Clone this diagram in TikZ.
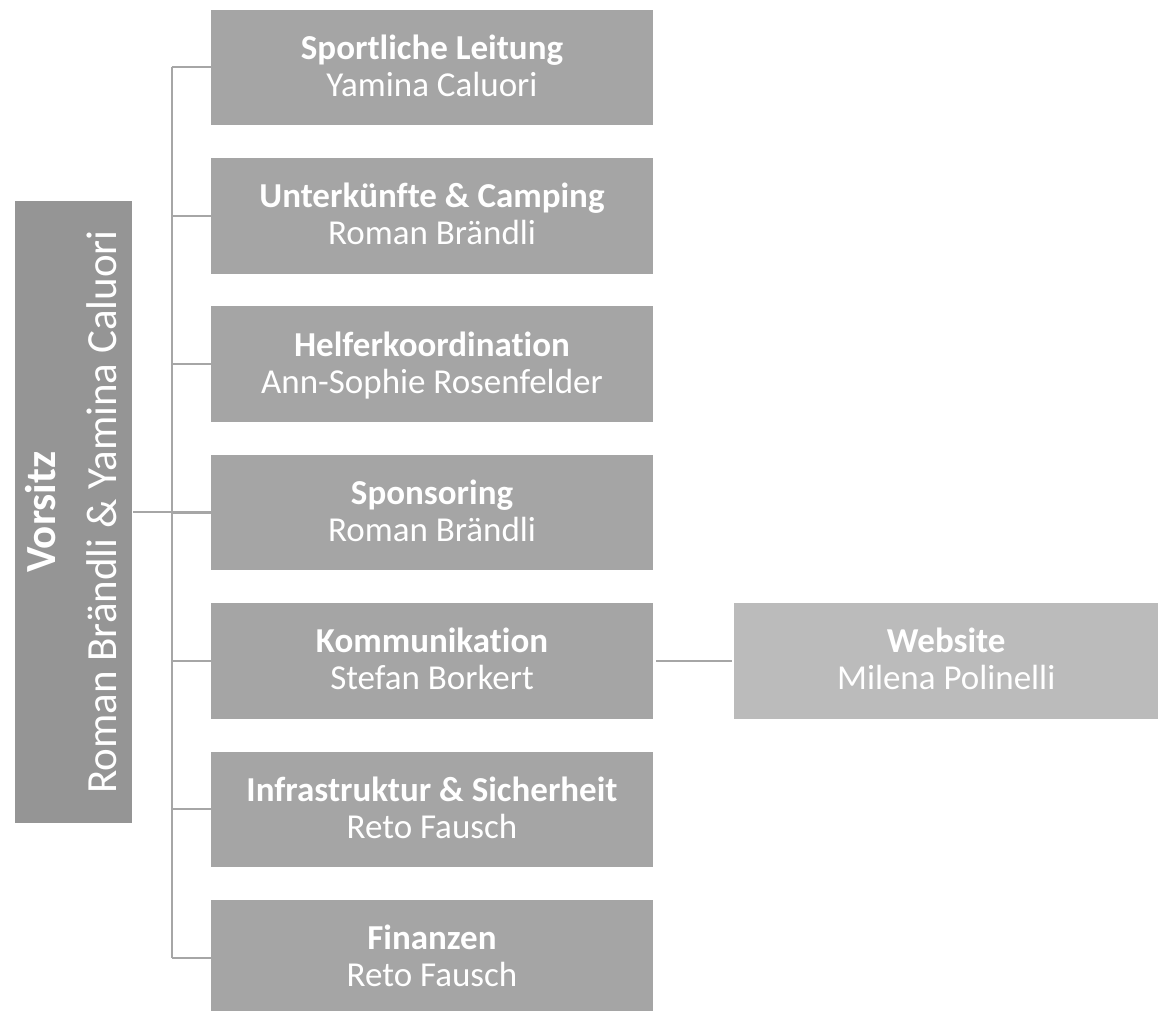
\documentclass[tikz,border=0pt]{standalone}
\usepackage{fontspec}
\setmainfont{Carlito}[RawFeature={-liga;-clig;-calt;-dlig}]
\definecolor{boxgray}{HTML}{A5A5A5}
\definecolor{vgray}{HTML}{959595}
\definecolor{wgray}{HTML}{BBBBBB}
\definecolor{linegray}{HTML}{A6A6A6}
\newcommand{\twol}[2]{\raisebox{0pt}[21pt][0pt]{\bfseries #1}\\\raisebox{0pt}[21pt][0pt]{#2}}
\tikzset{
  unit/.style={rectangle, fill=boxgray, minimum width=442.6pt, minimum height=115.6pt, inner sep=0pt,
    text=white, align=center, font=\fontsize{35pt}{37pt}\selectfont},
  subunit/.style={unit, fill=wgray, minimum width=423.7pt},
  chair/.style={rectangle, fill=vgray, minimum width=117pt, minimum height=622pt, inner sep=0pt},
  chairtext/.style={rotate=90, text=white, align=center, inner sep=0pt, font=\fontsize{43pt}{61.7pt}\selectfont},
  conn/.style={draw=linegray, line width=2pt}
}
\begin{document}
\begin{tikzpicture}[x=1pt, y=-1pt]
\useasboundingbox (0,0) rectangle (1158,1010);
\node[unit] (s1) at (432,67.3) {\twol{Sportliche Leitung}{Yamina Caluori}};
\node[unit] (s2) at (432,215.7) {\twol{Unterkünfte \& Camping}{Roman Brändli}};
\node[unit] (s3) at (432,364.1) {\twol{Helferkoordination}{Ann-Sophie Rosenfelder}};
\node[unit] (s4) at (432,512.5) {\twol{Sponsoring}{Roman Brändli}};
\node[unit] (s5) at (432,660.9) {\twol{Kommunikation}{Stefan Borkert}};
\node[unit] (s6) at (432,809.3) {\twol{Infrastruktur \& Sicherheit}{Reto Fausch}};
\node[unit] (s7) at (432,957.7) {\twol{Finanzen}{Reto Fausch}};
\node[subunit] (w) at (946.2,660.9) {\twol{Website}{Milena Polinelli}};
\node[chair] (v) at (73.2,512) {};
\node[chairtext] (vt) at (v.center) {\raisebox{0pt}[25.3pt][0pt]{\bfseries Vorsitz}\\\raisebox{0pt}[25.3pt][0pt]{Roman Brändli \& Yamina Caluori}};
\coordinate (spine) at (171.5,0);
\draw[conn] (s1.west -| spine) -- (s7.west -| spine);
\foreach \i in {1,...,7} {\draw[conn] (s\i.west -| spine) -- (s\i.west);}
\draw[conn, shorten <=1.5pt] (v.east) -- (v.east -| s4.west);
\draw[conn, shorten <=2.7pt, shorten >=2.6pt] (s5.east) -- (w.west);
\end{tikzpicture}
\end{document}
